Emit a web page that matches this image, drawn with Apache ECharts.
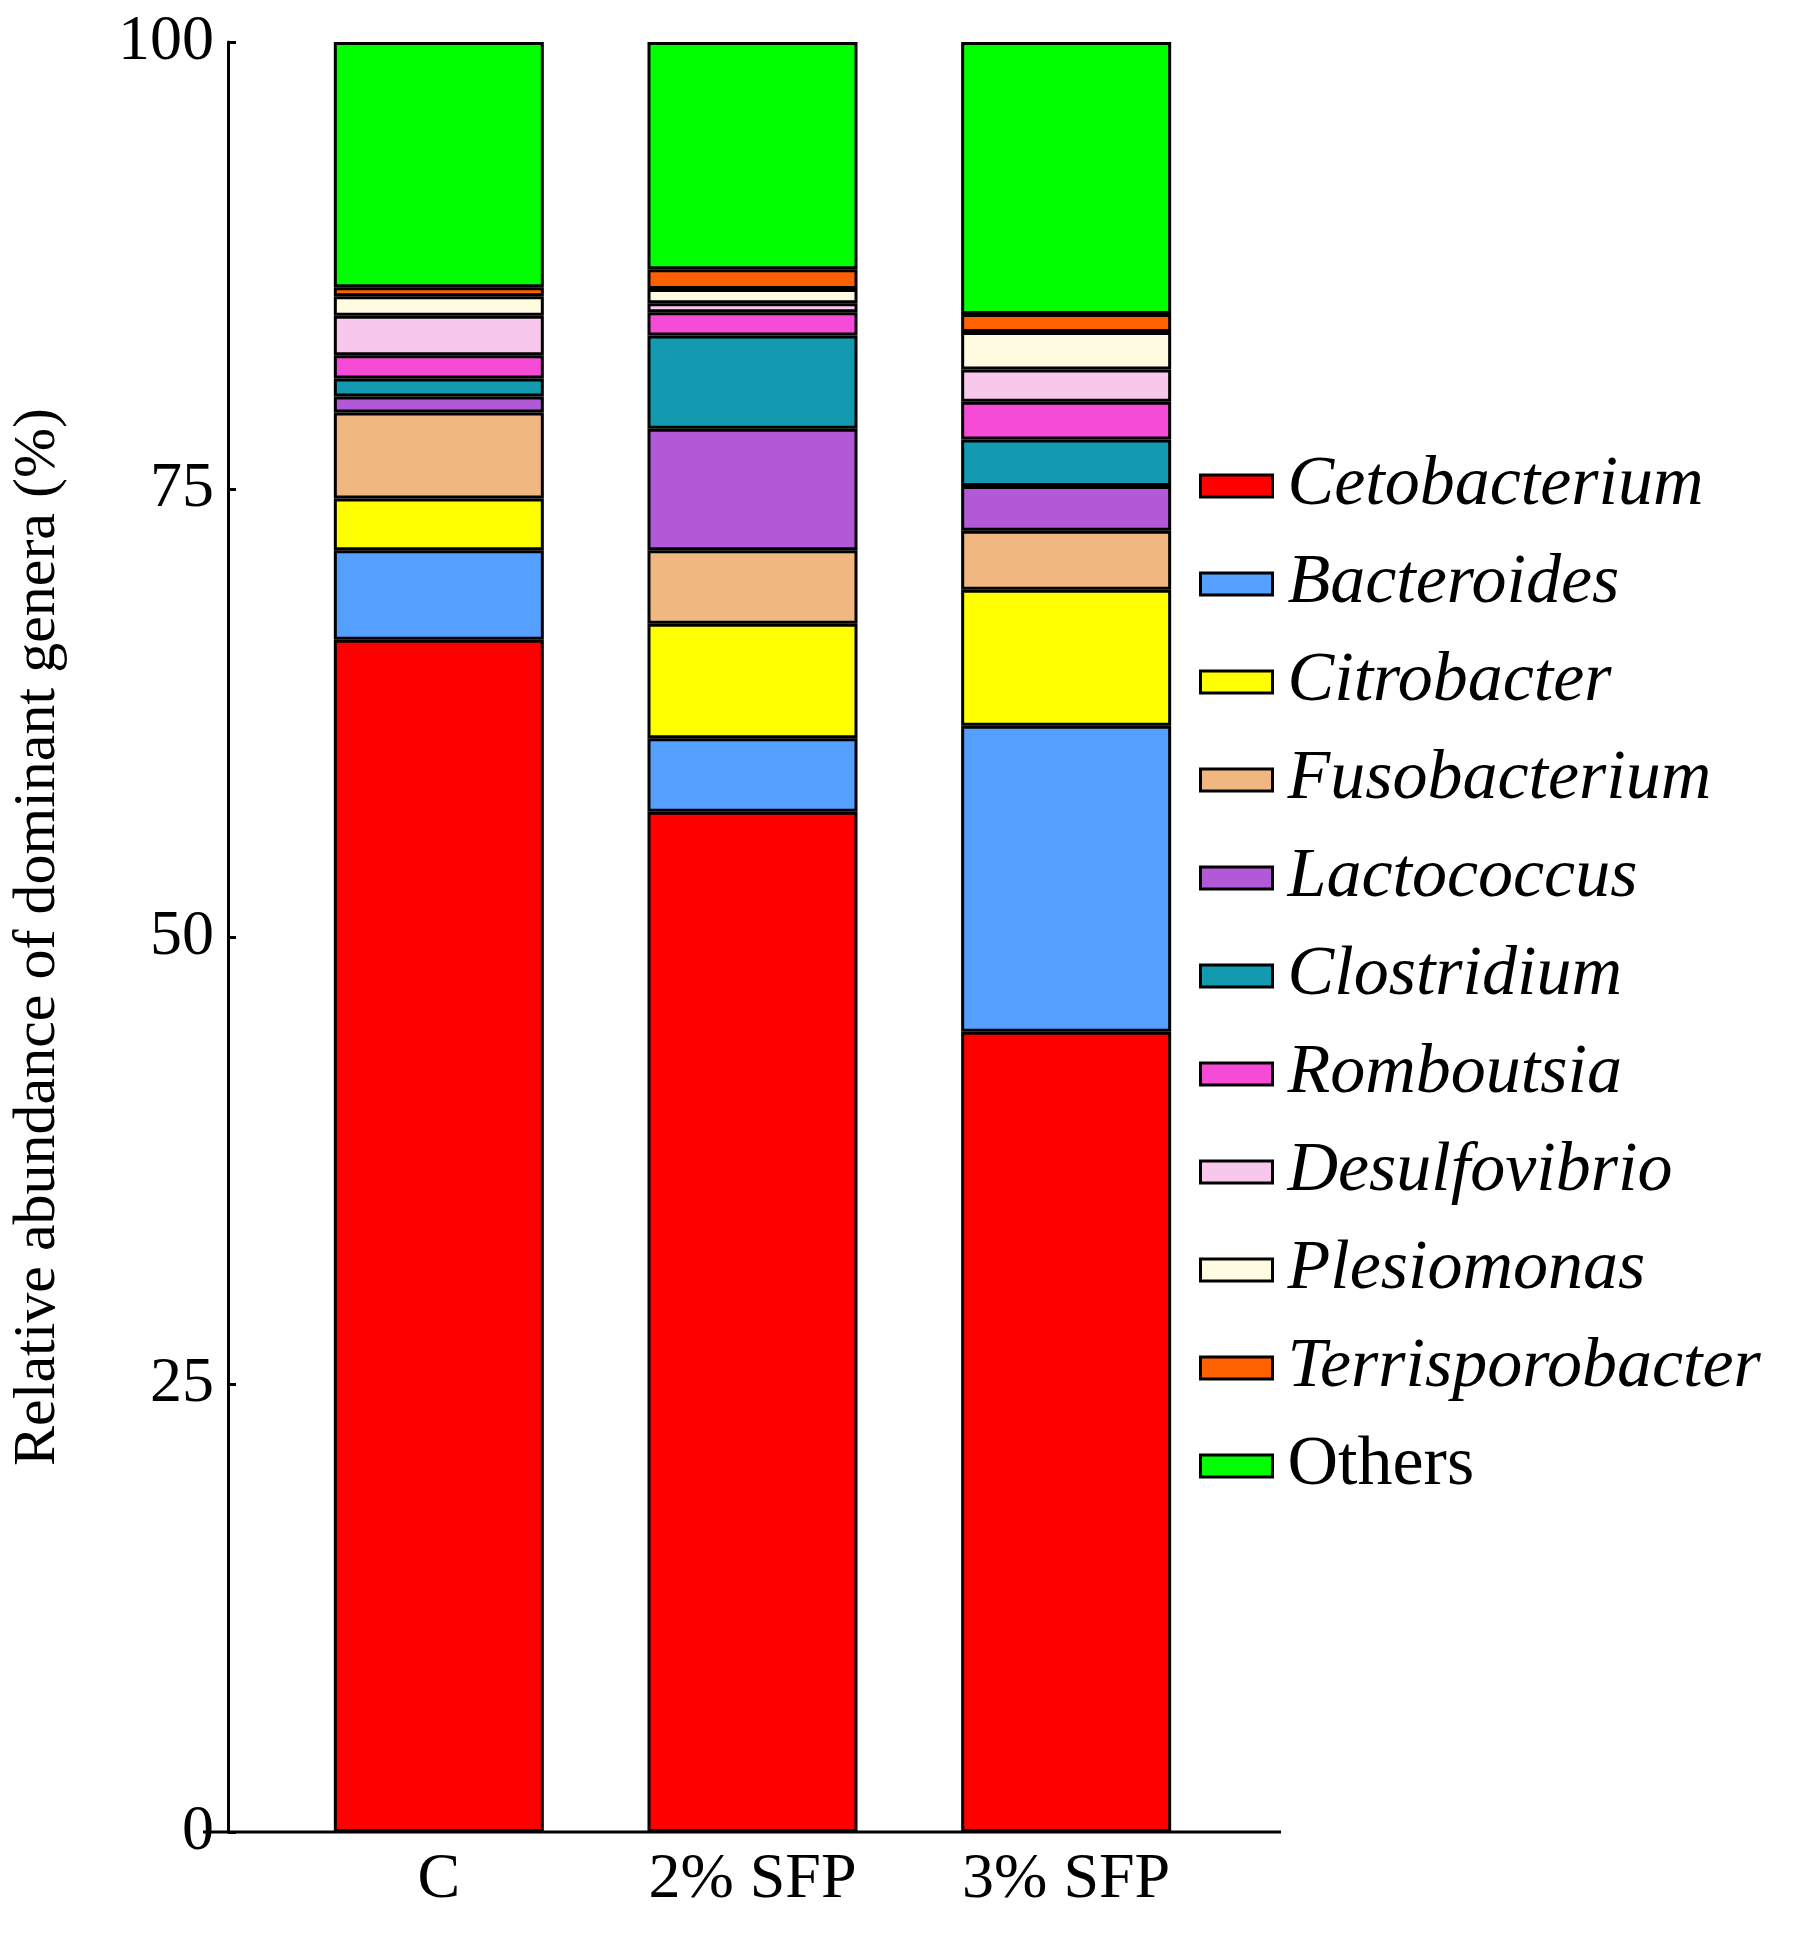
<!DOCTYPE html>
<html>
<head>
<meta charset="utf-8">
<script src="https://cdn.jsdelivr.net/npm/echarts@6/dist/echarts.min.js"></script>
<style>html,body{margin:0;background:#fff}#main{width:1805px;height:1937px}</style>
</head>
<body>
<div id="main"></div>
<script>
var groups = ['C', '2% SFP', '3% SFP'];
var genera = ['Cetobacterium', 'Bacteroides', 'Citrobacter', 'Fusobacterium', 'Lactococcus',
    'Clostridium', 'Romboutsia', 'Desulfovibrio', 'Plesiomonas', 'Terrisporobacter', 'Others'];
var colors = ['#ff0000', '#559fff', '#ffff00', '#f0b880', '#b259d8', '#1399b0',
    '#f64bd7', '#f8c8ec', '#fefbe0', '#ff6000', '#00ff00'];
// values per genus, for C, 2% SFP, 3% SFP
var cetobacterium = [66.6, 57.0, 44.7];
var bacteroides = [5.0, 4.1, 17.1];
var citrobacter = [2.9, 6.4, 7.6];
var fusobacterium = [4.8, 4.1, 3.3];
var lactococcus = [0.9, 6.8, 2.5];
var clostridium = [1.0, 5.2, 2.6];
var romboutsia = [1.3, 1.3, 2.1];
var desulfovibrio = [2.2, 0.5, 1.8];
var plesiomonas = [1.1, 0.8, 2.1];
var terrisporobacter = [0.5, 1.1, 1.0];
var others = [13.7, 12.7, 15.2];

var values = [cetobacterium, bacteroides, citrobacter, fusobacterium, lactococcus,
    clostridium, romboutsia, desulfovibrio, plesiomonas, terrisporobacter, others];

var myChart = echarts.init(document.getElementById('main'));
var font = '"Liberation Serif", "Times New Roman", serif';

myChart.setOption({
    animation: false,
    grid: { left: 257, width: 966, top: 42, height: 1790 },
    graphic: [{
        type: 'line', shape: { x1: 203, y1: 1832, x2: 1281, y2: 1832 },
        style: { stroke: '#000', lineWidth: 3 }, z: 10
    }],
    xAxis: {
        type: 'category', data: groups,
        axisLine: { show: false },
        axisTick: { show: false },
        axisLabel: { color: '#000', fontFamily: font, fontSize: 64, margin: 16 }
    },
    yAxis: {
        type: 'value', min: 0, max: 100, interval: 25, offset: 54,
        name: 'Relative abundance of dominant genera (%)',
        nameLocation: 'middle', nameGap: 160,
        nameTextStyle: { color: '#000', fontFamily: font, fontSize: 60 },
        splitLine: { show: false },
        axisLine: { show: true, lineStyle: { color: '#000', width: 3 } },
        axisTick: { show: true, inside: true, length: 8, lineStyle: { color: '#000', width: 3 } },
        axisLabel: { color: '#000', fontFamily: font, fontSize: 64, margin: 14 }
    },
    legend: {
        orient: 'vertical', left: 1194, top: 446,
        icon: 'rect', itemWidth: 72, itemHeight: 22, itemGap: 28,
        itemStyle: { borderColor: '#000', borderWidth: 3 },
        data: genera,
        formatter: function (n) { return n === 'Others' ? '{n|' + n + '}' : '{i|' + n + '}'; },
        textStyle: {
            rich: {
                i: { fontFamily: font, fontSize: 70, fontStyle: 'italic', color: '#000', lineHeight: 70, padding: [0, 0, 0, 10] },
                n: { fontFamily: font, fontSize: 70, color: '#000', lineHeight: 70, padding: [0, 0, 0, 10] }
            }
        }
    },
    series: genera.map(function (g, i) {
        return {
            name: g, type: 'bar', stack: 'total', barWidth: 210,
            itemStyle: { color: colors[i], borderColor: '#000', borderWidth: 3 },
            data: values[i]
        };
    })
});
</script>
</body>
</html>
